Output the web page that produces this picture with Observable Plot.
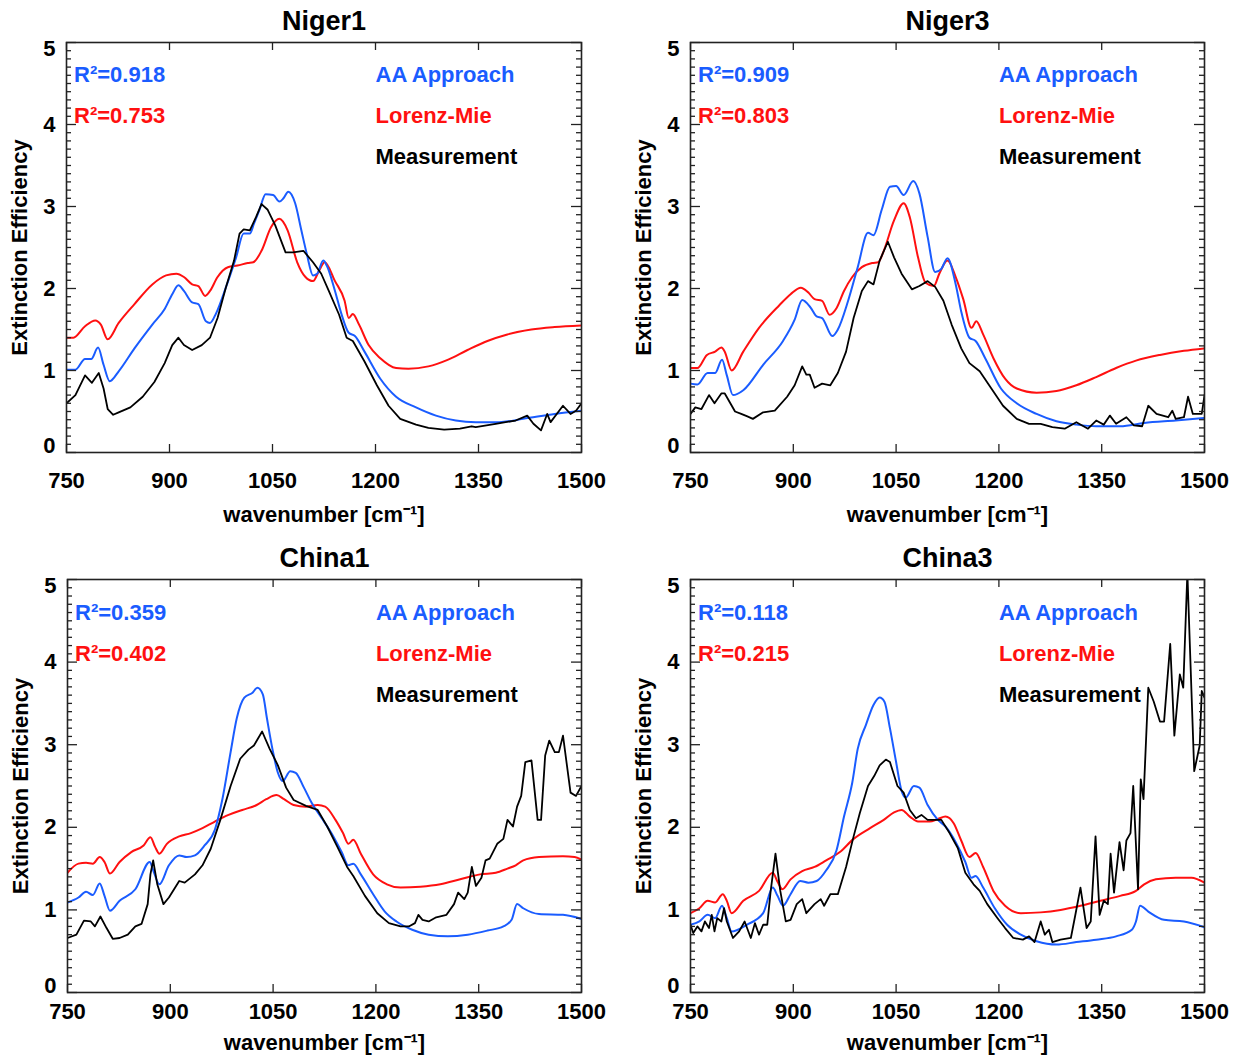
<!DOCTYPE html>
<html><head><meta charset="utf-8">
<script src="https://cdn.jsdelivr.net/npm/d3@7"></script>
<script src="https://cdn.jsdelivr.net/npm/@observablehq/plot@0.6"></script>
<style>
body{margin:0;background:#fff;}
#wrap{position:relative;width:1241px;height:1056px;background:#fff;}
.panel{position:absolute;}
</style></head><body><div id="wrap"></div>
<script>
const xTicks = [750, 900, 1050, 1200, 1350, 1500];
const yTicks = [0, 1, 2, 3, 4, 5];
const titles = ["Niger1", "Niger3", "China1", "China3"];
const r2AA = ["0.918", "0.909", "0.359", "0.118"];
const r2LM = ["0.753", "0.803", "0.402", "0.215"];
const seriesNames = ["AA Approach", "Lorenz-Mie", "Measurement"];

const niger1AA = [[750,1.01],[763,1.01],[777,1.14],[786,1.14],[796,1.28],[804,1.07],[813,0.87],[826,0.99],[849,1.27],[875,1.56],[893,1.75],[904,1.93],[913,2.04],[921,1.97],[933,1.83],[942,1.81],[953,1.60],[959,1.58],[968,1.70],[982,2.01],[997,2.38],[1008,2.67],[1017,2.67],[1023,2.79],[1031,2.96],[1040,3.15],[1051,3.14],[1060,3.06],[1066,3.10],[1073,3.18],[1083,3.04],[1092,2.71],[1100,2.42],[1109,2.16],[1115,2.18],[1124,2.34],[1129,2.28],[1141,1.97],[1150,1.70],[1161,1.46],[1170,1.42],[1184,1.23],[1207,0.90],[1230,0.68],[1259,0.55],[1288,0.45],[1317,0.39],[1346,0.37],[1380,0.37],[1415,0.41],[1461,0.47],[1500,0.51]];
const niger1LM = [[750,1.40],[760,1.40],[777,1.54],[792,1.61],[800,1.56],[810,1.38],[826,1.58],[849,1.81],[875,2.05],[895,2.16],[910,2.18],[921,2.14],[933,2.05],[942,2.03],[952,1.91],[959,1.97],[970,2.14],[985,2.26],[999,2.28],[1014,2.31],[1022,2.32],[1034,2.46],[1048,2.75],[1060,2.85],[1072,2.71],[1086,2.32],[1098,2.14],[1109,2.09],[1118,2.22],[1126,2.32],[1141,2.09],[1155,1.85],[1161,1.64],[1167,1.69],[1176,1.56],[1190,1.31],[1207,1.15],[1230,1.03],[1248,1.02],[1277,1.05],[1305,1.13],[1334,1.25],[1363,1.36],[1392,1.44],[1427,1.50],[1461,1.53],[1500,1.55]];
const niger1Meas = [[750,0.60],[763,0.70],[777,0.94],[787,0.85],[797,0.97],[804,0.78],[810,0.53],[818,0.46],[826,0.49],[843,0.55],[861,0.68],[878,0.86],[893,1.09],[904,1.31],[913,1.40],[921,1.31],[933,1.25],[947,1.31],[959,1.40],[970,1.64],[982,2.01],[994,2.34],[1002,2.67],[1008,2.72],[1017,2.71],[1026,2.87],[1034,3.03],[1043,2.96],[1054,2.77],[1069,2.44],[1080,2.44],[1095,2.46],[1109,2.32],[1121,2.18],[1132,1.97],[1147,1.68],[1158,1.40],[1167,1.36],[1184,1.11],[1202,0.82],[1219,0.57],[1236,0.41],[1259,0.34],[1277,0.30],[1300,0.28],[1323,0.29],[1340,0.32],[1346,0.31],[1375,0.35],[1404,0.39],[1421,0.45],[1430,0.35],[1441,0.27],[1450,0.47],[1455,0.37],[1473,0.57],[1484,0.47],[1492,0.51],[1500,0.60]];

const niger3AA = [[750,0.84],[760,0.83],[775,0.97],[786,0.97],[796,1.13],[803,0.94],[812,0.70],[827,0.76],[856,1.07],[885,1.36],[902,1.62],[913,1.86],[925,1.77],[934,1.66],[942,1.64],[957,1.42],[965,1.50],[980,1.85],[994,2.26],[1009,2.68],[1017,2.65],[1029,2.96],[1041,3.24],[1050,3.25],[1061,3.14],[1075,3.31],[1084,3.16],[1096,2.63],[1107,2.20],[1116,2.24],[1125,2.37],[1137,2.05],[1145,1.72],[1157,1.40],[1166,1.36],[1180,1.15],[1203,0.78],[1226,0.60],[1255,0.47],[1284,0.38],[1313,0.34],[1342,0.32],[1377,0.32],[1412,0.36],[1458,0.39],[1500,0.42]];
const niger3LM = [[750,1.03],[760,1.03],[774,1.19],[786,1.23],[795,1.28],[800,1.23],[810,1.00],[827,1.23],[850,1.52],[879,1.79],[896,1.93],[911,2.01],[922,1.95],[931,1.87],[942,1.85],[953,1.68],[963,1.76],[974,1.97],[986,2.14],[1000,2.26],[1015,2.31],[1024,2.32],[1032,2.46],[1047,2.83],[1061,3.04],[1070,2.87],[1082,2.38],[1093,2.07],[1105,2.03],[1113,2.18],[1125,2.34],[1137,2.14],[1148,1.87],[1160,1.52],[1167,1.60],[1177,1.44],[1192,1.15],[1209,0.90],[1226,0.78],[1255,0.73],[1284,0.75],[1313,0.82],[1342,0.92],[1371,1.03],[1400,1.12],[1435,1.19],[1470,1.24],[1500,1.27]];
const niger3Meas = [[750,0.47],[757,0.55],[766,0.53],[777,0.70],[785,0.60],[795,0.72],[800,0.72],[815,0.50],[824,0.47],[833,0.44],[841,0.41],[856,0.49],[873,0.51],[891,0.68],[902,0.82],[913,1.05],[919,0.95],[924,0.95],[931,0.79],[942,0.84],[954,0.82],[965,0.97],[977,1.23],[988,1.64],[1000,1.97],[1009,2.09],[1017,2.05],[1026,2.34],[1038,2.57],[1047,2.38],[1058,2.18],[1073,1.99],[1084,2.03],[1096,2.09],[1107,2.02],[1119,1.85],[1131,1.56],[1145,1.27],[1157,1.09],[1172,0.99],[1189,0.78],[1206,0.57],[1226,0.41],[1244,0.35],[1261,0.35],[1278,0.31],[1296,0.29],[1313,0.37],[1330,0.29],[1342,0.39],[1353,0.34],[1362,0.45],[1371,0.35],[1386,0.43],[1397,0.33],[1409,0.32],[1418,0.57],[1430,0.47],[1447,0.43],[1453,0.51],[1458,0.41],[1470,0.43],[1476,0.68],[1483,0.47],[1496,0.47],[1500,0.70]];

const china1AA = [[750,1.09],[766,1.15],[777,1.22],[787,1.18],[797,1.32],[804,1.17],[812,0.99],[826,1.11],[849,1.25],[870,1.58],[875,1.48],[884,1.31],[898,1.54],[913,1.66],[924,1.64],[936,1.66],[950,1.78],[965,1.97],[976,2.34],[988,2.91],[997,3.32],[1008,3.57],[1020,3.63],[1027,3.69],[1035,3.61],[1041,3.32],[1049,2.95],[1057,2.66],[1064,2.56],[1075,2.68],[1083,2.66],[1095,2.48],[1106,2.30],[1121,2.11],[1135,1.93],[1150,1.70],[1160,1.54],[1167,1.56],[1178,1.43],[1196,1.19],[1213,0.98],[1230,0.86],[1253,0.76],[1277,0.70],[1305,0.68],[1334,0.70],[1363,0.75],[1386,0.80],[1398,0.88],[1406,1.07],[1415,1.02],[1438,0.95],[1473,0.94],[1500,0.89]];
const china1LM = [[750,1.45],[766,1.56],[777,1.57],[787,1.56],[797,1.64],[804,1.58],[812,1.44],[826,1.58],[843,1.70],[861,1.78],[871,1.88],[878,1.76],[884,1.68],[895,1.80],[913,1.89],[930,1.93],[947,1.99],[965,2.07],[985,2.15],[1005,2.21],[1026,2.27],[1040,2.34],[1055,2.39],[1066,2.34],[1080,2.27],[1098,2.25],[1115,2.27],[1126,2.25],[1141,2.09],[1152,1.93],[1160,1.80],[1167,1.85],[1178,1.68],[1196,1.43],[1216,1.31],[1236,1.27],[1265,1.28],[1294,1.31],[1323,1.37],[1352,1.43],[1375,1.45],[1392,1.50],[1404,1.54],[1415,1.60],[1438,1.64],[1473,1.65],[1490,1.64],[1500,1.61]];
const china1Meas = [[750,0.66],[763,0.70],[774,0.87],[784,0.86],[790,0.80],[798,0.92],[807,0.78],[816,0.65],[826,0.66],[838,0.70],[849,0.80],[858,0.83],[867,1.07],[871,1.43],[875,1.60],[881,1.31],[890,1.07],[898,1.15],[913,1.35],[921,1.33],[936,1.43],[947,1.54],[959,1.74],[973,2.09],[988,2.50],[1002,2.83],[1014,2.94],[1022,2.99],[1034,3.16],[1045,2.95],[1057,2.75],[1069,2.48],[1080,2.33],[1098,2.26],[1115,2.21],[1129,2.01],[1144,1.76],[1158,1.52],[1167,1.41],[1184,1.17],[1202,0.96],[1219,0.84],[1236,0.80],[1248,0.80],[1257,0.84],[1262,0.94],[1268,0.88],[1277,0.86],[1288,0.91],[1303,0.94],[1314,1.07],[1320,1.21],[1329,1.13],[1334,1.21],[1340,1.52],[1346,1.29],[1354,1.39],[1360,1.60],[1366,1.62],[1377,1.80],[1386,1.86],[1392,2.09],[1400,2.01],[1406,2.25],[1412,2.38],[1418,2.79],[1427,2.81],[1436,2.09],[1441,2.09],[1447,2.87],[1453,3.05],[1461,2.91],[1467,2.91],[1473,3.11],[1484,2.42],[1492,2.38],[1500,2.50]];

const china3AA = [[750,0.82],[763,0.86],[775,0.94],[786,0.90],[796,1.05],[803,0.90],[810,0.74],[832,0.82],[856,0.96],[870,1.27],[877,1.17],[885,1.05],[896,1.19],[910,1.35],[922,1.33],[934,1.35],[948,1.48],[963,1.72],[974,2.13],[986,2.54],[994,2.95],[1006,3.24],[1017,3.48],[1026,3.57],[1033,3.52],[1041,3.20],[1050,2.79],[1058,2.44],[1064,2.36],[1076,2.50],[1084,2.48],[1096,2.27],[1111,2.09],[1122,2.01],[1137,1.82],[1151,1.58],[1160,1.39],[1166,1.41],[1177,1.27],[1194,1.02],[1212,0.82],[1232,0.70],[1255,0.62],[1284,0.58],[1313,0.61],[1342,0.64],[1371,0.68],[1394,0.76],[1400,0.86],[1406,1.05],[1418,0.98],[1441,0.88],[1470,0.86],[1500,0.79]];
const china3LM = [[750,0.96],[763,1.02],[775,1.11],[786,1.09],[797,1.19],[803,1.11],[810,0.96],[827,1.11],[850,1.23],[870,1.45],[877,1.34],[884,1.25],[896,1.37],[913,1.47],[931,1.52],[948,1.60],[968,1.70],[988,1.86],[1012,1.99],[1032,2.09],[1047,2.18],[1058,2.21],[1070,2.13],[1082,2.07],[1099,2.07],[1111,2.10],[1122,2.13],[1134,2.05],[1145,1.84],[1157,1.64],[1166,1.69],[1177,1.52],[1192,1.23],[1209,1.05],[1232,0.96],[1261,0.97],[1290,1.00],[1319,1.05],[1348,1.11],[1377,1.17],[1400,1.23],[1412,1.31],[1429,1.37],[1458,1.39],[1481,1.39],[1500,1.33]];
const china3Meas = [[750,0.82],[754,0.72],[760,0.80],[766,0.74],[771,0.86],[777,0.78],[781,0.94],[785,0.74],[789,0.90],[795,0.86],[799,1.02],[803,0.86],[812,0.66],[821,0.74],[829,0.86],[838,0.66],[844,0.84],[850,0.70],[856,0.82],[862,0.82],[867,1.23],[874,1.68],[881,1.23],[889,0.86],[896,0.88],[905,1.07],[913,1.13],[919,0.96],[931,1.07],[940,1.13],[945,1.05],[954,1.19],[965,1.19],[977,1.52],[988,1.89],[997,2.17],[1009,2.50],[1018,2.62],[1026,2.75],[1035,2.82],[1041,2.79],[1052,2.50],[1061,2.42],[1070,2.21],[1079,2.11],[1087,2.15],[1096,2.09],[1116,2.09],[1128,1.93],[1140,1.75],[1151,1.45],[1163,1.31],[1172,1.23],[1183,1.07],[1198,0.90],[1209,0.78],[1221,0.66],[1235,0.64],[1244,0.68],[1252,0.61],[1261,0.86],[1267,0.70],[1273,0.76],[1278,0.61],[1290,0.64],[1305,0.66],[1312,0.96],[1319,1.27],[1328,0.78],[1334,0.86],[1341,1.89],[1347,0.94],[1353,1.11],[1359,1.07],[1363,1.68],[1368,1.21],[1376,1.82],[1382,1.48],[1386,1.84],[1392,1.93],[1396,2.50],[1403,1.25],[1407,2.58],[1411,2.34],[1418,3.69],[1426,3.52],[1435,3.28],[1441,3.28],[1450,4.22],[1456,3.11],[1464,3.85],[1469,3.69],[1475,5.08],[1485,2.68],[1493,2.99],[1496,3.65],[1500,3.57]];

const BLUE = "#1a5cff";
const RED = "#ff1010";
const FONT = "'Liberation Sans', Arial, Helvetica, sans-serif";

const panels = [
  {title: titles[0], aa: niger1AA, lm: niger1LM, meas: niger1Meas, r2a: r2AA[0], r2l: r2LM[0], left: 0, top: 0, width: 620, height: 530, mL: 66, mR: 39, mT: 42, mB: 78, tickDy: 28, xTitleDy: 62},
  {title: titles[1], aa: niger3AA, lm: niger3LM, meas: niger3Meas, r2a: r2AA[1], r2l: r2LM[1], left: 620, top: 0, width: 621, height: 530, mL: 70, mR: 37, mT: 42, mB: 78, tickDy: 28, xTitleDy: 62},
  {title: titles[2], aa: china1AA, lm: china1LM, meas: china1Meas, r2a: r2AA[2], r2l: r2LM[2], left: 0, top: 530, width: 620, height: 526, mL: 67, mR: 39, mT: 49, mB: 64, tickDy: 19, xTitleDy: 50},
  {title: titles[3], aa: china3AA, lm: china3LM, meas: china3Meas, r2a: r2AA[3], r2l: r2LM[3], left: 620, top: 530, width: 621, height: 526, mL: 70, mR: 37, mT: 49, mB: 64, tickDy: 19, xTitleDy: 50}
];

const yMinor = d3.range(1, 50).map(i => i / 10).filter(v => Math.abs(v - Math.round(v)) > 1e-9);

function makePanel(p) {
  const W = p.width - p.mL - p.mR, H = p.height - p.mT - p.mB;
  const txt = {fontSize: 22, fontWeight: "bold", fill: "black"};
  const X = d => d[0], Y = d => d[1];
  const tickStyle = {stroke: "#222", strokeWidth: 1.3};
  return Plot.plot({
    width: p.width, height: p.height,
    marginLeft: p.mL, marginRight: p.mR, marginTop: p.mT, marginBottom: p.mB,
    x: {type: "linear", domain: [750, 1500], axis: null},
    y: {type: "linear", domain: [0, 5], axis: null},
    style: {fontFamily: FONT, background: "white", overflow: "visible"},
    marks: [
      Plot.line(p.lm, {x: X, y: Y, stroke: RED, strokeWidth: 2, curve: "monotone-x", clip: true}),
      Plot.line(p.aa, {x: X, y: Y, stroke: BLUE, strokeWidth: 2, curve: "monotone-x", clip: true}),
      Plot.line(p.meas, {x: X, y: Y, stroke: "black", strokeWidth: 1.8, curve: "linear", clip: true}),
      Plot.frame({stroke: "#222", strokeWidth: 1.6}),
      Plot.tickX(xTicks, {x: d => d, insetTop: H - 8, ...tickStyle}),
      Plot.tickX(xTicks, {x: d => d, insetBottom: H - 8, ...tickStyle}),
      Plot.tickY(yTicks, {y: d => d, insetRight: W - 10, ...tickStyle}),
      Plot.tickY(yTicks, {y: d => d, insetLeft: W - 10, ...tickStyle}),
      Plot.tickY(yMinor, {y: d => d, insetRight: W - 5, ...tickStyle}),
      Plot.tickY(yMinor, {y: d => d, insetLeft: W - 5, ...tickStyle}),
      Plot.text(xTicks, {x: d => d, text: d => String(d), frameAnchor: "bottom", dy: p.tickDy, lineAnchor: "middle", ...txt}),
      Plot.text(yTicks.filter(d => d > 0 && d < 5), {y: d => d, text: d => String(d), frameAnchor: "left", dx: -11, textAnchor: "end", lineAnchor: "middle", ...txt}),
      Plot.text(yTicks.filter(d => d === 5), {y: d => d, text: d => String(d), frameAnchor: "left", dx: -11, dy: 6, textAnchor: "end", lineAnchor: "middle", ...txt}),
      Plot.text(yTicks.filter(d => d === 0), {y: d => d, text: d => String(d), frameAnchor: "left", dx: -11, dy: -7, textAnchor: "end", lineAnchor: "middle", ...txt}),
      Plot.text([p.title], {frameAnchor: "top", dy: -21, lineAnchor: "middle", textAnchor: "middle", ...txt, fontSize: 27}),
      Plot.text(["wavenumber [cm\u207B\u00B9]"], {frameAnchor: "bottom", dy: p.xTitleDy, lineAnchor: "middle", textAnchor: "middle", ...txt}),
      Plot.text(["Extinction Efficiency"], {frameAnchor: "left", dx: -47, rotate: -90, lineAnchor: "middle", textAnchor: "middle", ...txt}),
      Plot.text([`R\u00B2=${p.r2a}`], {x: 761, y: 4.6, textAnchor: "start", lineAnchor: "middle", ...txt, fill: BLUE}),
      Plot.text([`R\u00B2=${p.r2l}`], {x: 761, y: 4.1, textAnchor: "start", lineAnchor: "middle", ...txt, fill: RED}),
      Plot.text([seriesNames[0]], {x: 1200, y: 4.6, textAnchor: "start", lineAnchor: "middle", ...txt, fill: BLUE}),
      Plot.text([seriesNames[1]], {x: 1200, y: 4.1, textAnchor: "start", lineAnchor: "middle", ...txt, fill: RED}),
      Plot.text([seriesNames[2]], {x: 1200, y: 3.6, textAnchor: "start", lineAnchor: "middle", ...txt, fill: "black"})
    ]
  });
}

const wrap = document.getElementById("wrap");
for (const p of panels) {
  const div = document.createElement("div");
  div.className = "panel";
  div.style.left = p.left + "px";
  div.style.top = p.top + "px";
  div.appendChild(makePanel(p));
  wrap.appendChild(div);
}
</script></body></html>
